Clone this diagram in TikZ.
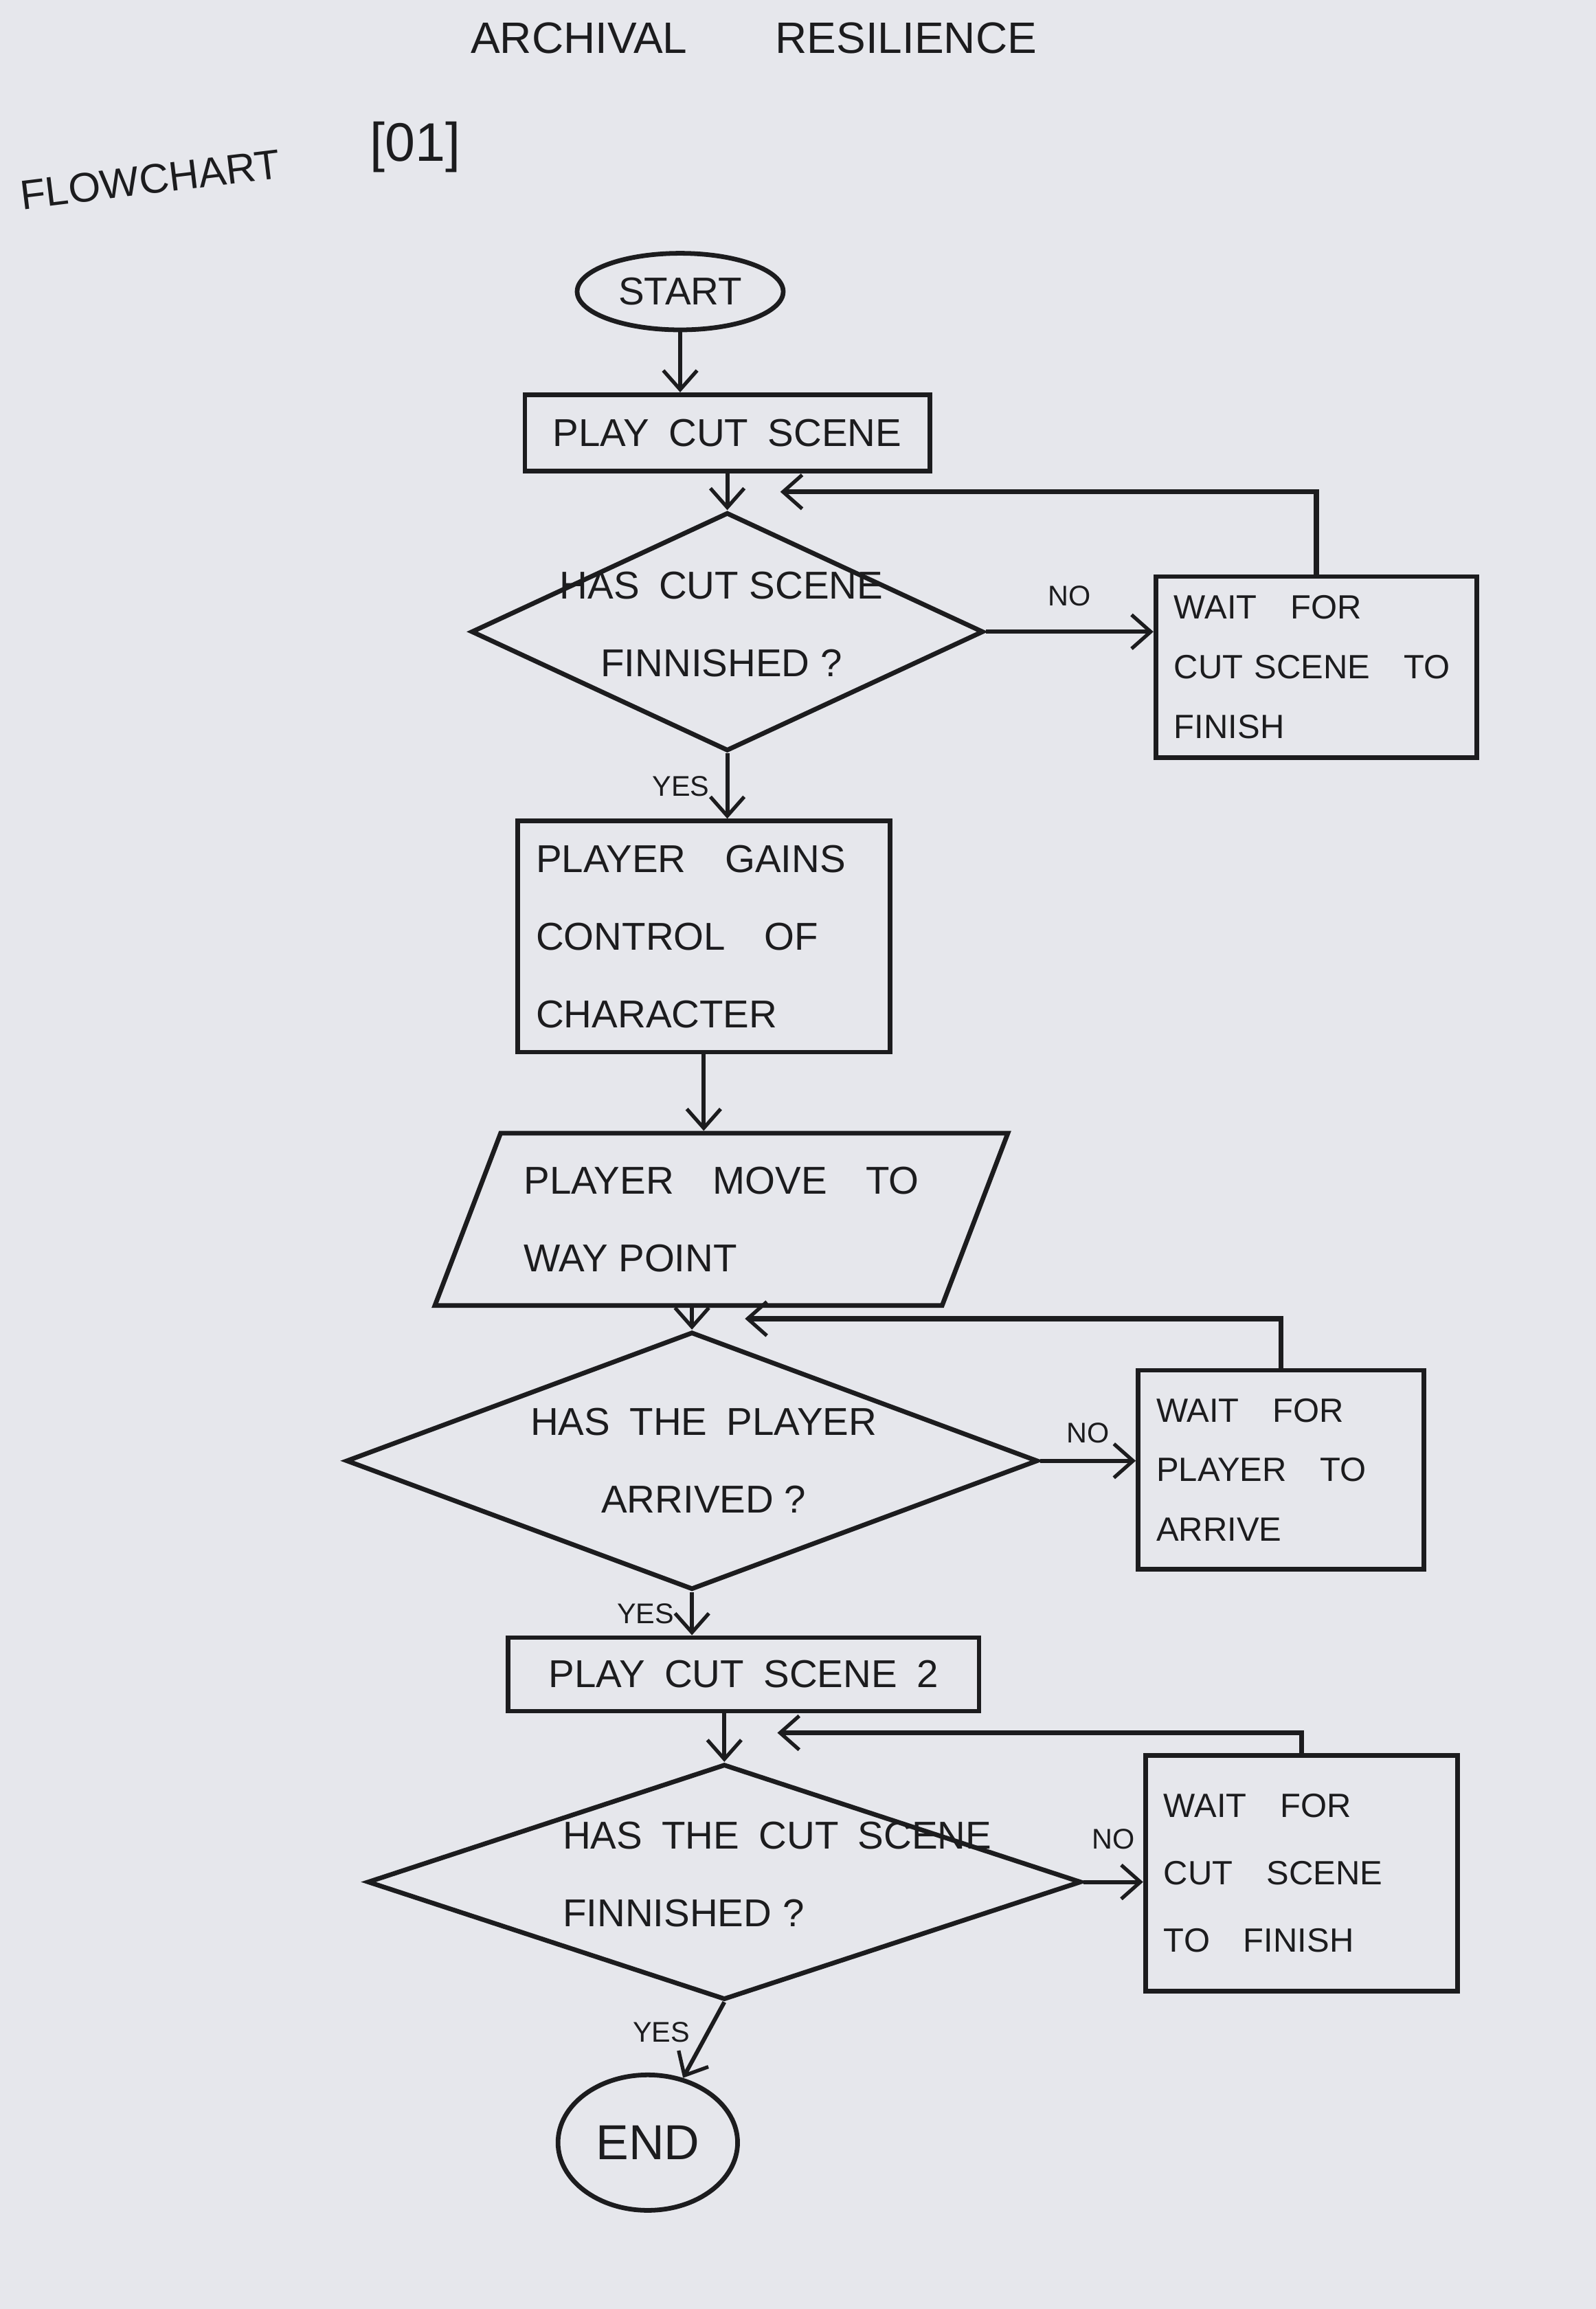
\documentclass[tikz,border=0pt]{standalone}
\usepackage{fontspec}
\setmainfont{Liberation Sans}
\usepackage{tikz}
\usetikzlibrary{arrows.meta,positioning,calc,shapes.geometric}
\definecolor{FCPaper}{HTML}{E6E7EC}
\definecolor{FCInk}{HTML}{1C1C1E}
\tikzset{
  flow/.style={-{Straight Barb[length=2.6mm,width=4.6mm,line width=1.4pt]},FCInk,line width=1.6pt},
  loopback/.style={flow,line width=2.0pt},
  terminal/.style={ellipse,draw=FCInk,line width=1.8pt,text=FCInk,inner sep=0pt,
                   font=\fontsize{15}{18}\selectfont},
  process/.style={rectangle,draw=FCInk,line width=1.8pt,text=FCInk,align=left,
                  inner xsep=2.5mm,font=\fontsize{15}{30}\selectfont},
  waitbox/.style={process,font=\fontsize{13}{23}\selectfont},
  decision/.style={diamond,draw=FCInk,line width=1.8pt,inner sep=0pt},
  inout/.style={trapezium,trapezium left angle=63,trapezium right angle=117,
                trapezium stretches=true,draw=FCInk,line width=1.8pt,inner sep=1mm,
                text=FCInk,align=left,font=\fontsize{15}{30}\selectfont},
  intext/.style={text=FCInk,font=\fontsize{15}{30}\selectfont},
  lbl/.style={text=FCInk,font=\fontsize{11}{13}\selectfont},
  heading/.style={text=FCInk,font=\fontsize{16}{19}\selectfont},
}

\begin{document}
\begin{tikzpicture}[x=0.02cm,y=-0.02cm]
    \fill[FCPaper] (0,0) rectangle (1084,1568);
    \node[heading,font=\fontsize{17}{20}\selectfont] (title) at (512,26) {ARCHIVAL\qquad RESILIENCE};
    \node[heading,rotate=7] (chart) at (102,122) {FLOWCHART};
    \node[heading,font=\fontsize{21}{24}\selectfont] (num) at (282,100) {[01]};

    % first cut scene
    \node[terminal,minimum width=2.8cm,minimum height=1.04cm] (start) at (462,198) {START};
    \node[process,minimum width=5.5cm,minimum height=1.04cm] (play1) at (494,294)
      {PLAY\enspace CUT\enspace SCENE};
    \node[decision,minimum width=6.96cm,minimum height=3.24cm] (q1) at (494,429) {};
    \node[intext,align=center] (q1txt) at (490,424) {HAS\enspace CUT SCENE\\FINNISHED ?};
    \node[waitbox,minimum width=4.36cm,minimum height=2.46cm,text width=3.86cm] (wait1) at (894,453)
      {WAIT\quad FOR\\CUT SCENE\quad TO\\FINISH};

    \node[process,minimum width=5.06cm,minimum height=3.14cm,text width=4.56cm] (ctrl) at (478,636)
      {PLAYER\quad GAINS\\CONTROL\quad OF\\CHARACTER};

    % waypoint
    \node[inout,minimum width=7.8cm,minimum height=2.34cm] (move) at (490,828)
      {PLAYER\quad MOVE\quad TO\\WAY POINT};
    \node[decision,minimum width=9.4cm,minimum height=3.5cm] (q2) at (470,992) {};
    \node[intext,align=center] (q2txt) at (478,992) {HAS\enspace THE\enspace PLAYER\\ARRIVED ?};
    \node[waitbox,minimum width=3.88cm,minimum height=2.7cm,text width=3.38cm] (wait2) at (870,998)
      {WAIT\quad FOR\\PLAYER\quad TO\\ARRIVE};

    % second cut scene
    \node[process,minimum width=6.4cm,minimum height=1.0cm] (play2) at (505,1137)
      {PLAY\enspace CUT\enspace SCENE\enspace 2};
    \node[decision,minimum width=9.7cm,minimum height=3.2cm] (q3) at (492,1278) {};
    \node[intext,align=left,anchor=west] (q3txt) at (376,1273) {HAS\enspace THE\enspace CUT\enspace SCENE\\FINNISHED ?};
    \node[waitbox,minimum width=4.24cm,minimum height=3.2cm,text width=3.74cm,
          font=\fontsize{13}{26}\selectfont] (wait3) at (884,1272)
      {WAIT\quad FOR\\CUT\quad SCENE\\TO\quad FINISH};
    \node[terminal,minimum width=2.44cm,minimum height=1.84cm,font=\fontsize{19}{22}\selectfont] (stop) at (440,1455) {END};

    \coordinate (m1) at ($(q1.north)!0.5!(q1.north |- play1.south)+(36,0)$);
    \coordinate (m2) at ($(q2.north)!0.5!(q2.north |- move.south)+(36,0)$);
    \coordinate (m3) at ($(q3.north)!0.6!(q3.north |- play2.south)+(36,0)$);

    \draw[flow] (start.south) -- (start.south |- play1.north);
    \draw[flow] (q1.north |- play1.south) -- (q1.north);
    \draw[flow] (q1.east) -- (q1.east -| wait1.west) node[lbl,midway,above=2mm] (no1) {NO};
    \draw[loopback] (wait1.north) |- (m1);
    \draw[flow] (q1.south) -- (q1.south |- ctrl.north) node[lbl,midway,left=1mm] (yes1) {YES};
    \draw[flow] (ctrl.south) -- (ctrl.south |- move.north);
    \draw[flow] (q2.north |- move.south) -- (q2.north);
    \draw[flow] (q2.east) -- (q2.east -| wait2.west) node[lbl,midway,above=1mm] (no2) {NO};
    \draw[loopback] (wait2.north) |- (m2);
    \draw[flow] (q2.south) -- (q2.south |- play2.north) node[lbl,midway,left=1mm] (yes2) {YES};
    \draw[flow] (q3.north |- play2.south) -- (q3.north);
    \draw[flow] (q3.east) -- (q3.east -| wait3.west) node[lbl,midway,above=3mm] (no3) {NO};
    \draw[loopback] (wait3.north) |- (m3);
    \draw[flow] (q3.south) -- (stop) node[lbl,pos=0.4,left=1mm] (yes3) {YES};
  \end{tikzpicture}
\end{document}
